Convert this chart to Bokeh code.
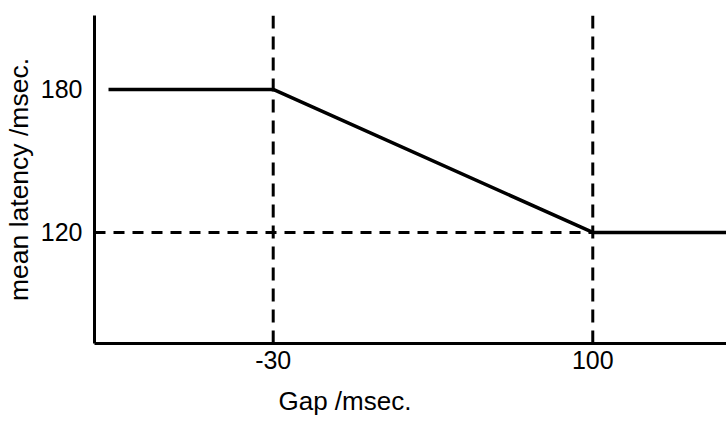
from bokeh.plotting import figure
from bokeh.models import Range1d, FixedTicker, Span, Title
from bokeh.embed import file_html
from bokeh.resources import INLINE

# data
gap = [-97, -30, 100, 160]
latency = [180, 180, 120, 120]
x_ticks = [-30, 100]
x_tick_labels = {-30: "-30", 100: "100"}
y_ticks = [120, 180]
ref_gap = [-30, 100]
ref_latency = 120
x_lo, x_hi = -102.7, 154.4
y_lo, y_hi = 73.4, 211.0

FONT = "Liberation Sans"

p = figure(width=726, height=421, output_backend="svg", toolbar_location=None,
           x_range=Range1d(x_lo, x_hi), y_range=Range1d(y_lo, y_hi),
           min_border_left=93, min_border_right=0, min_border_top=15,
           min_border_bottom=78)
p.outline_line_color = None
p.grid.visible = False
p.background_fill_color = "white"
p.border_fill_color = "white"

for ax in (p.xaxis[0], p.yaxis[0]):
    ax.axis_line_width = 3
    ax.axis_line_color = "black"
    ax.major_tick_line_color = None
    ax.minor_tick_line_color = None
    ax.major_tick_out = 0
    ax.major_tick_in = 0
    ax.minor_tick_out = 0
    ax.major_label_text_font = FONT
    ax.major_label_text_font_size = "25px"
    ax.major_label_text_color = "black"

p.xaxis[0].ticker = FixedTicker(ticks=x_ticks)
p.xaxis[0].major_label_overrides = x_tick_labels
p.yaxis[0].ticker = FixedTicker(ticks=y_ticks)
p.xaxis[0].major_label_standoff = 7
p.yaxis[0].major_label_standoff = 12

p.yaxis[0].axis_label = "mean latency /msec."
p.yaxis[0].axis_label_text_font = FONT
p.yaxis[0].axis_label_text_font_size = "26.5px"
p.yaxis[0].axis_label_text_font_style = "normal"
p.yaxis[0].axis_label_text_color = "black"
p.yaxis[0].axis_label_standoff = 4

xt = Title(text="Gap /msec.", align="left", offset=184, text_font=FONT,
           text_font_size="26px", text_font_style="normal", text_color="black",
           standoff=0, padding=(0, 0, 12, 0))
p.add_layout(xt, "below")

for g in ref_gap:
    p.add_layout(Span(location=g, dimension="height", line_color="black",
                      line_width=3, line_dash="13 8"))

p.segment(x0=[x_lo], y0=[ref_latency], x1=[ref_gap[1]], y1=[ref_latency],
          line_color="black", line_width=3, line_dash="11 8")

p.line(gap, latency, line_color="black", line_width=3.5)

open("out.html", "w").write(file_html(p, INLINE))
